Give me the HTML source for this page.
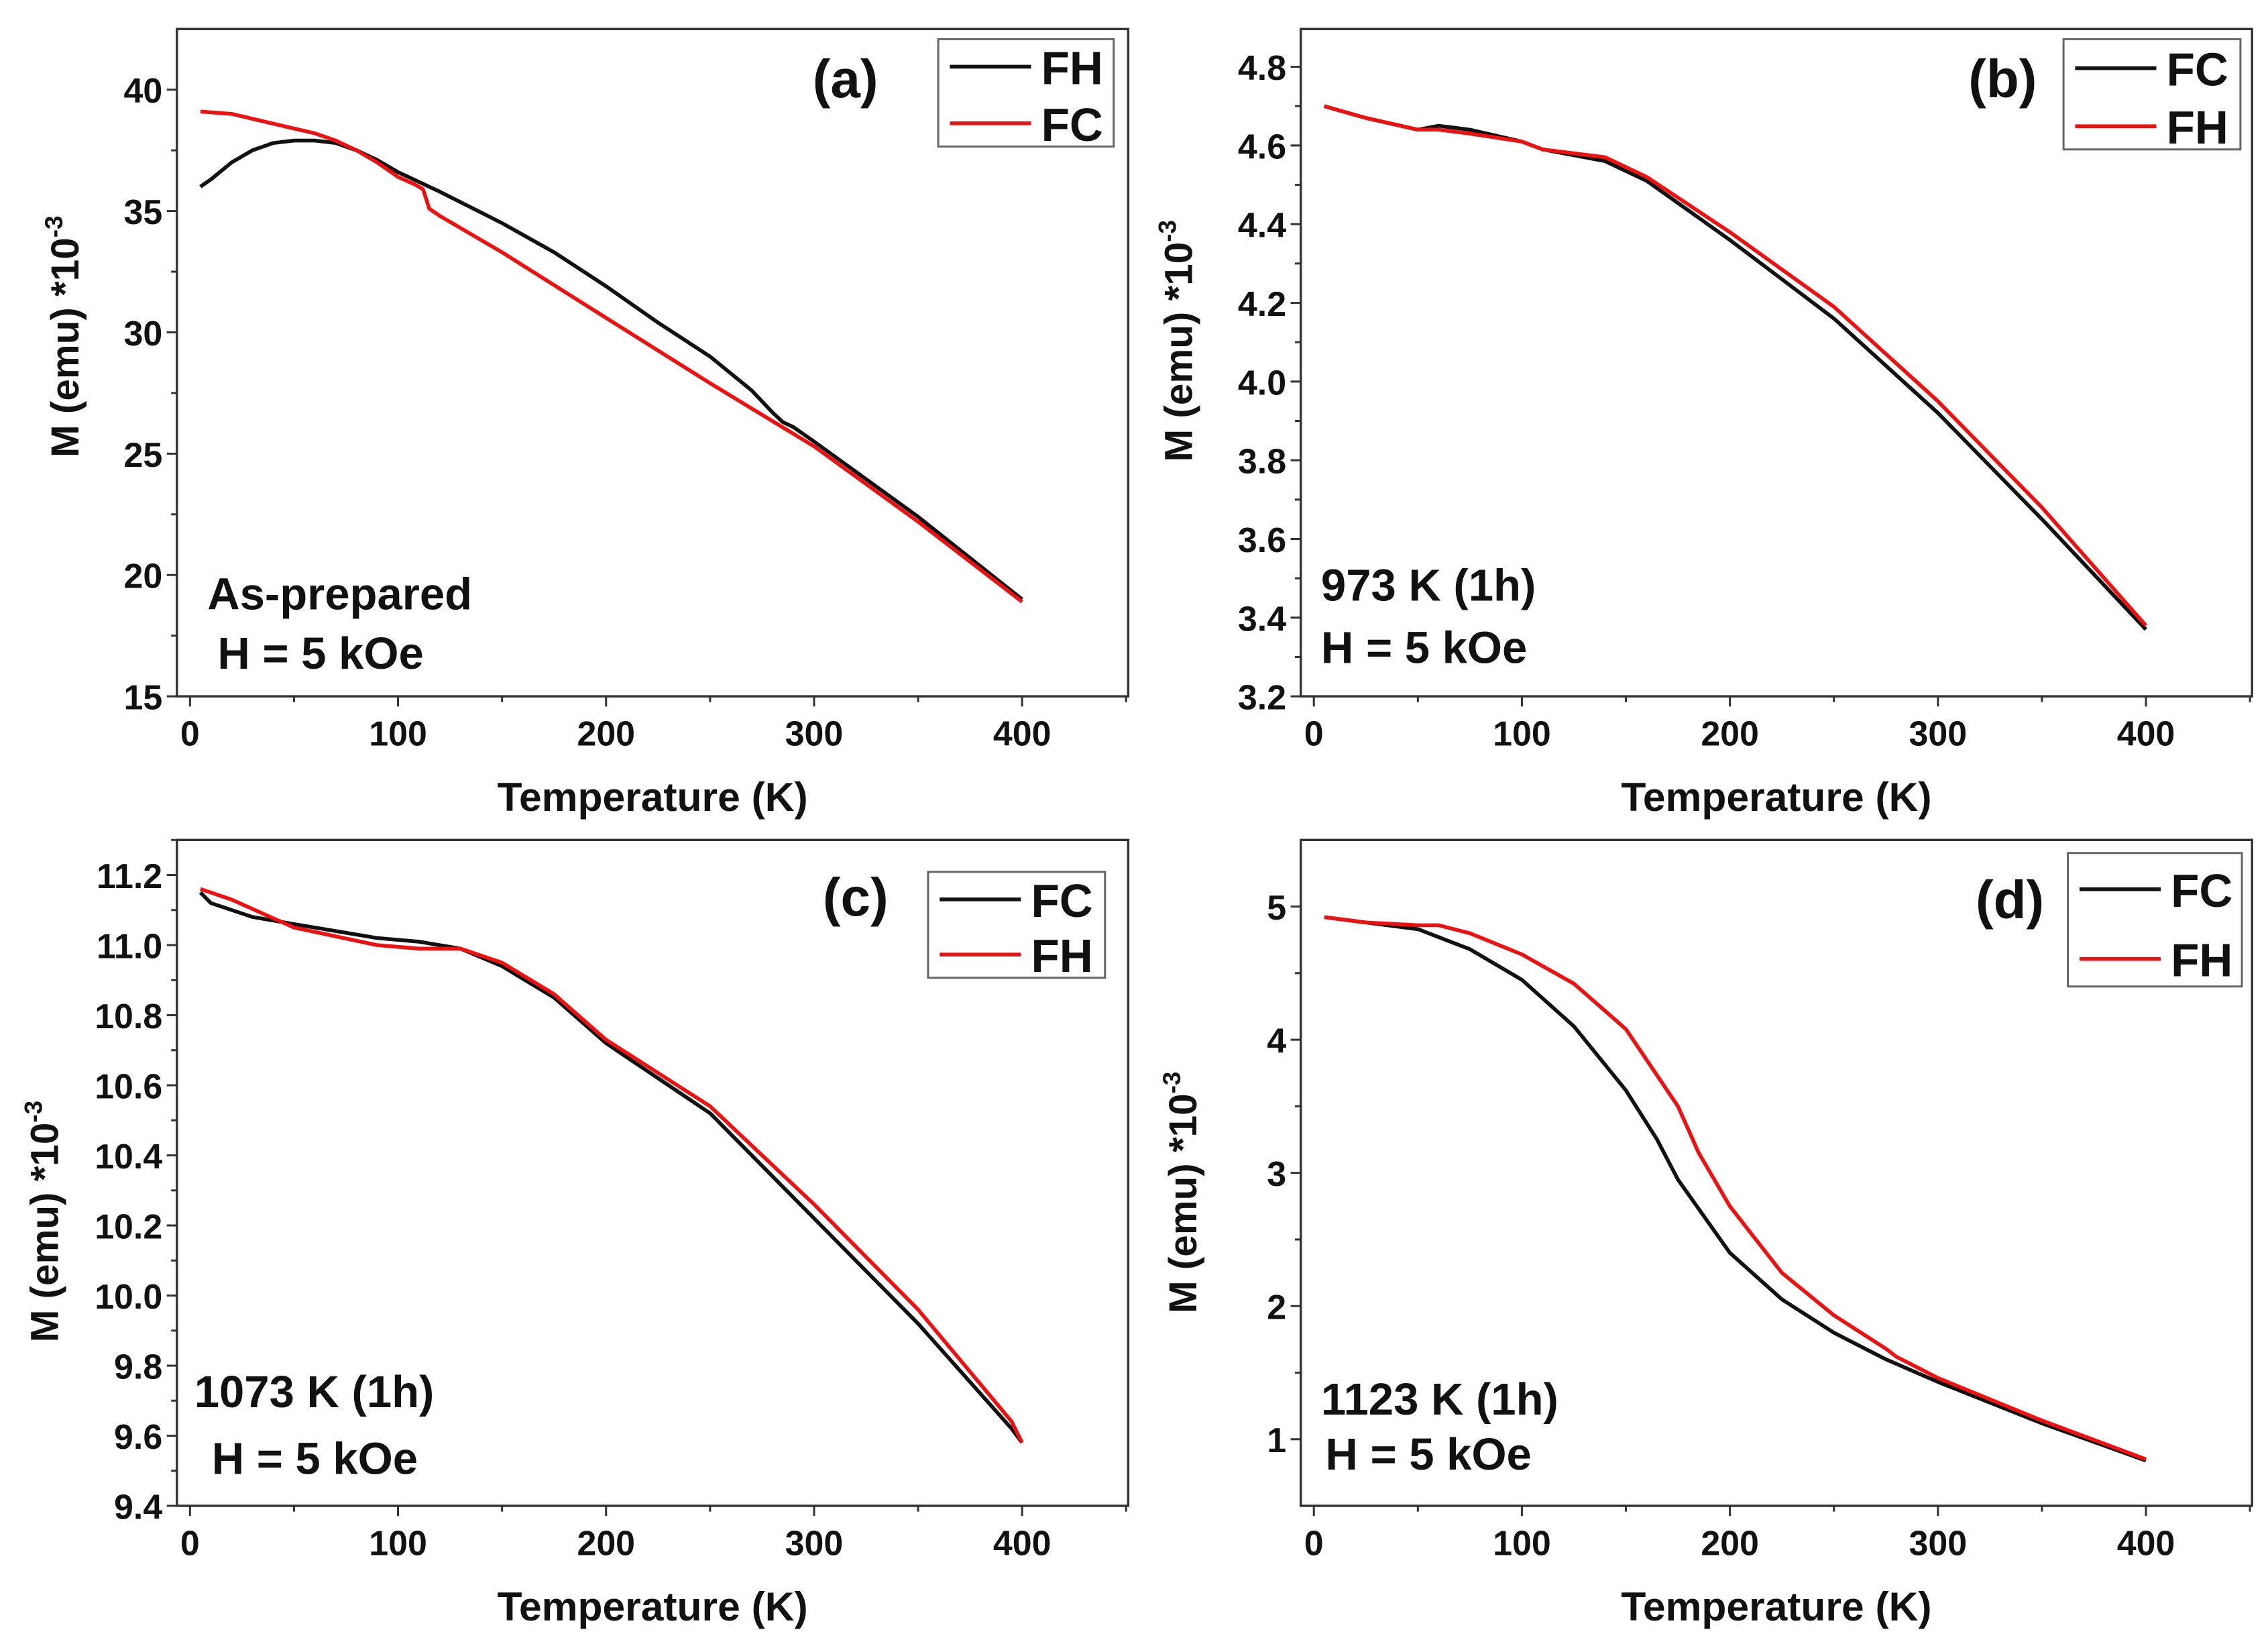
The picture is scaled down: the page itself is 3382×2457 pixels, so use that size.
<!DOCTYPE html>
<html><head><meta charset="utf-8">
<style>
html,body{margin:0;padding:0;background:#fff;}
svg{display:block;}
text{font-family:"Liberation Sans Narrow","Liberation Sans",sans-serif;font-weight:bold;fill:#111;}
.yt{font-family:"Liberation Sans",sans-serif;}
</style></head>
<body>
<svg id="fig" width="3382" height="2457" viewBox="0 0 1564 1136" preserveAspectRatio="none" xmlns="http://www.w3.org/2000/svg"></svg>
<script>
// ---- data (panel a) ----
const aFH_T = [5,10,20,30,40,50,60,70,80,90,100,120,150,175,200,225,250,270,280,285,290,300,350,400];
const aFH_M = [36.0,36.3,37.0,37.5,37.8,37.9,37.9,37.8,37.5,37.1,36.6,35.8,34.5,33.3,31.9,30.4,29.0,27.6,26.7,26.3,26.1,25.5,22.4,19.0];
const aFC_T = [5,20,30,50,60,70,80,90,100,108,112,115,120,150,200,250,300,350,400];
const aFC_M = [39.1,39.0,38.8,38.4,38.2,37.9,37.5,37.0,36.4,36.1,35.9,35.1,34.8,33.3,30.6,27.9,25.3,22.2,18.9];
// ---- data (panel b) ----
const bFC_T = [5,25,50,60,75,100,110,140,160,200,250,300,350,400];
const bFC_M = [4.70,4.67,4.64,4.65,4.64,4.61,4.59,4.56,4.51,4.36,4.16,3.92,3.65,3.37];
const bFH_T = [5,25,50,60,75,100,110,140,160,200,250,300,350,400];
const bFH_M = [4.70,4.67,4.64,4.64,4.63,4.61,4.59,4.57,4.52,4.38,4.19,3.95,3.68,3.38];
// ---- data (panel c) ----
const cFC_T = [5,10,30,50,70,90,110,130,150,175,200,250,300,350,395,400];
const cFC_M = [11.15,11.12,11.08,11.06,11.04,11.02,11.01,10.99,10.94,10.85,10.72,10.52,10.22,9.92,9.62,9.58];
const cFH_T = [5,20,50,90,110,130,150,175,200,250,300,350,395,400];
const cFH_M = [11.16,11.13,11.05,11.00,10.99,10.99,10.95,10.86,10.73,10.54,10.26,9.96,9.64,9.58];
// ---- data (panel d) ----
const dFC_T = [5,25,50,75,100,125,150,165,175,200,225,250,275,300,350,400];
const dFC_M = [4.92,4.88,4.83,4.68,4.45,4.10,3.62,3.25,2.95,2.40,2.05,1.80,1.60,1.43,1.12,0.84];
const dFH_T = [5,25,50,60,75,100,125,150,175,185,200,225,250,275,280,300,350,400];
const dFH_M = [4.92,4.88,4.86,4.86,4.80,4.64,4.42,4.08,3.50,3.15,2.75,2.25,1.93,1.68,1.62,1.46,1.14,0.85];
const xTicks = [0,100,200,300,400];
const aTicks = [15,20,25,30,35,40];
const bTicks = [3.2,3.4,3.6,3.8,4.0,4.2,4.4,4.6,4.8];
const cTicks = [9.4,9.6,9.8,10.0,10.2,10.4,10.6,10.8,11.0,11.2];
const dTicks = [1,2,3,4,5];

const NS="http://www.w3.org/2000/svg";
const svg=document.getElementById('fig');
function mk(tag,attrs,parent){const e=document.createElementNS(NS,tag);for(const k in attrs)e.setAttribute(k,attrs[k]);(parent||svg).appendChild(e);return e;}

function panel(o){
  const g=mk('g',{});
  
  
  const L=o.box[0],R=o.box[1],T=o.box[2],B=o.box[3];
  const xs=v=>L+(v-o.xr[0])/(o.xr[1]-o.xr[0])*(R-L);
  const ys=v=>B-(v-o.yr[0])/(o.yr[1]-o.yr[0])*(B-T);
  const frame=mk('rect',{x:L,y:T,width:R-L,height:B-T,fill:'none',stroke:'#333','stroke-width':1.6},g);
  
  
  for(let v=0;v<=450;v+=50){const x=xs(v);mk('line',{x1:x,x2:x,y1:B,y2:B+(v%100==0?7:4),stroke:'#333','stroke-width':1.4},g);}
  xTicks.forEach(v=>{const t=mk('text',{x:xs(v),y:B+34,'text-anchor':'middle','font-size':24},g);t.textContent=v;
    });
  const tk=o.ticks;const step=tk[1]-tk[0];
  for(let i=0;i<tk.length;i++){const y=ys(tk[i]);mk('line',{x1:L,x2:L-7,y1:y,y2:y,stroke:'#333','stroke-width':1.4},g);
    const m=tk[i]+step/2; if(m<o.yr[1]) {const ym=ys(m);mk('line',{x1:L,x2:L-4,y1:ym,y2:ym,stroke:'#333','stroke-width':1.4},g);}
    const t=mk('text',{x:L-10,y:y+9,'text-anchor':'end','font-size':24},g);t.textContent=o.fmt(tk[i]);
    }
  const bm=tk[0]-step/2; if(bm>o.yr[0]){const ym=ys(bm);mk('line',{x1:L,x2:L-4,y1:ym,y2:ym,stroke:'#333','stroke-width':1.4},g);}
  const xt=mk('text',{x:(L+R)/2,y:B+79,'text-anchor':'middle','font-size':28},g);xt.textContent='Temperature (K)';
  
  const yt=mk('text',{class:'yt',x:0,y:0,'text-anchor':'middle','font-size':27,transform:`translate(${o.ytx},${o.yty}) rotate(-90)`},g);
  yt.innerHTML='M (emu) *10<tspan dy="-11" font-size="17">-3</tspan>';
  
  o.series.forEach(s=>{
    const d=s.T.map((t,i)=>(i?'L':'M')+xs(t).toFixed(1)+','+ys(s.M[i]).toFixed(1)).join(' ');
    const p=mk('path',{d:d,fill:'none',stroke:s.c,'stroke-width':2.6,'stroke-linejoin':'round'},g);
    
  });
  const lg=mk('g',{},g);
  const [lx,ly,lw,lh]=o.leg;
  mk('rect',{x:lx,y:ly,width:lw,height:lh,fill:'#fff',stroke:'#666','stroke-width':1.4},lg);
  o.legEntries.forEach((e,i)=>{const y=ly+o.legY[i];
    const le=mk('g',{},lg);
    mk('line',{x1:lx+8,x2:lx+64,y1:y,y2:y,stroke:e.c,'stroke-width':2.6},le);
    const t=mk('text',{x:lx+71,y:y+12,'font-size':32},le);t.textContent=e.n;});
  const pl=mk('text',{x:o.lab[0],y:o.lab[1],'text-anchor':'middle','font-size':37},g);pl.textContent='('+o.id+')';
  
  o.notes.forEach((n,i)=>{const t=mk('text',{x:n[0],y:n[1],'font-size':31},g);t.textContent=n[2];
    });
}
const f1=v=>v.toFixed(1), f0=v=>String(v);
panel({id:'a',box:[122,778,20,480],xr:[-6.3,451],yr:[15,42.5],ticks:aTicks,fmt:f0,ytx:54,yty:232,
  series:[{T:aFH_T,M:aFH_M,c:'#111',n:'FH'},{T:aFC_T,M:aFC_M,c:'#ee1111',n:'FC'}],
  leg:[647,27,121,74],legY:[19,58],legEntries:[{n:'FH',c:'#111'},{n:'FC',c:'#ee1111'}],lab:[583,67],
  notes:[[143,420,'As-prepared'],[150,461,'H = 5 kOe']]});
panel({id:'b',box:[897,1553,20,480],xr:[-6.3,451],yr:[3.2,4.896],ticks:bTicks,fmt:f1,ytx:822,yty:235,
  series:[{T:bFC_T,M:bFC_M,c:'#111',n:'FC'},{T:bFH_T,M:bFH_M,c:'#ee1111',n:'FH'}],
  leg:[1423,27,122,76],legY:[20,60],legEntries:[{n:'FC',c:'#111'},{n:'FH',c:'#ee1111'}],lab:[1381,67],
  notes:[[911,414,'973 K (1h)'],[911,457,'H = 5 kOe']]});
panel({id:'c',box:[122,778,579,1038],xr:[-6.3,451],yr:[9.4,11.3],ticks:cTicks,fmt:f1,ytx:40,yty:842,
  series:[{T:cFC_T,M:cFC_M,c:'#111',n:'FC'},{T:cFH_T,M:cFH_M,c:'#ee1111',n:'FH'}],
  leg:[640,601,122,73],legY:[19,57],legEntries:[{n:'FC',c:'#111'},{n:'FH',c:'#ee1111'}],lab:[590,631],
  notes:[[134,970,'1073 K (1h)'],[146,1016,'H = 5 kOe']]});
panel({id:'d',box:[897,1553,579,1038],xr:[-6.3,451],yr:[0.5,5.5],ticks:dTicks,fmt:f0,ytx:825,yty:822,
  series:[{T:dFC_T,M:dFC_M,c:'#111',n:'FC'},{T:dFH_T,M:dFH_M,c:'#ee1111',n:'FH'}],
  leg:[1426,588,120,92],legY:[25,73],legEntries:[{n:'FC',c:'#111'},{n:'FH',c:'#ee1111'}],lab:[1386,633],
  notes:[[911,975,'1123 K (1h)'],[914,1013,'H = 5 kOe']]});
</script>
</body></html>
